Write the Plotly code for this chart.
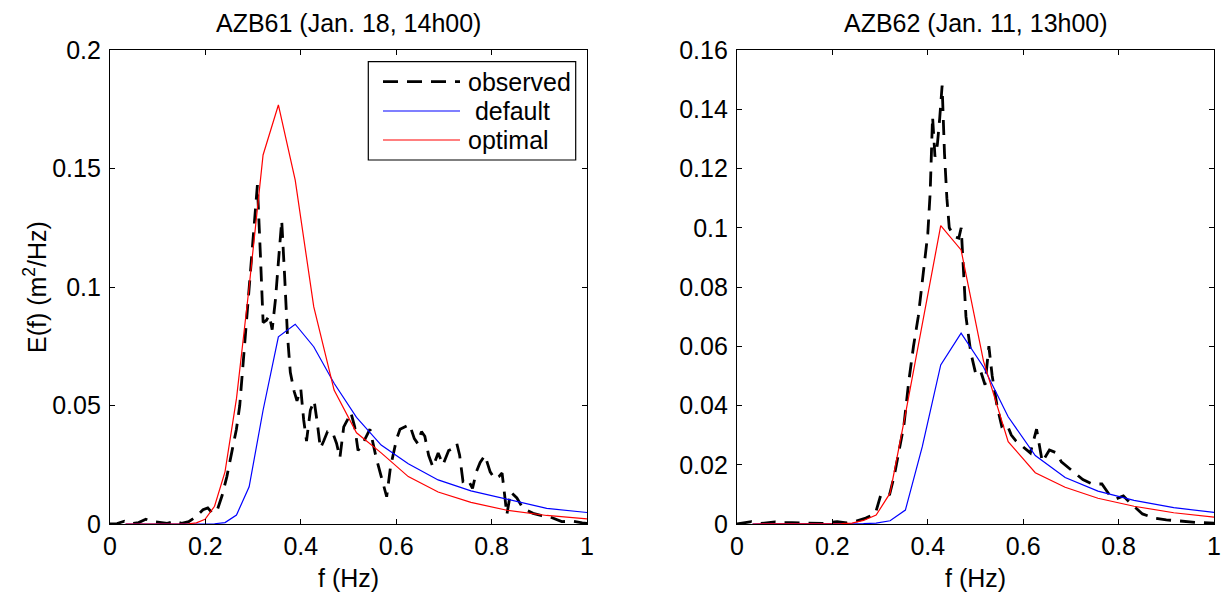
import plotly.graph_objects as go

# ---------------- data ----------------
# model frequency grid (logarithmic, read from vertices)
f_model = [0.0326, 0.0358, 0.0394, 0.0434, 0.0477, 0.0525, 0.0577, 0.0635, 0.0698,
           0.0768, 0.0845, 0.0929, 0.1022, 0.1125, 0.1237, 0.1361, 0.1497, 0.1647,
           0.1811, 0.1993, 0.2192, 0.2411, 0.2652, 0.2917, 0.3209, 0.3530, 0.3883,
           0.4271, 0.4698, 0.5168, 0.5685, 0.6253, 0.6879, 0.7567, 0.8323, 0.9156,
           1.0071]

# AZB61
left_default = [0, 0, 0, 0, 0, 0, 0, 0, 0,
                0, 0, 0, 0, 0, 0, 0, 0, 0,
                0, 0, 0.0001, 0.0006, 0.0038, 0.0157, 0.0480, 0.0790, 0.0843,
                0.0748, 0.0594, 0.0450, 0.0333, 0.0254, 0.0186, 0.0140, 0.0104, 0.0066,
                0.0047]
left_optimal = [0, 0, 0, 0, 0, 0, 0, 0, 0,
                0, 0, 0, 0, 0, 0, 0, 0, 0.0001,
                0.0005, 0.0020, 0.0075, 0.0220, 0.0530, 0.1000, 0.1557, 0.1768, 0.1451,
                0.0917, 0.0565, 0.0385, 0.0300, 0.0200, 0.0135, 0.0091, 0.0058, 0.0036,
                0.0020]
left_obs_f = [0.000, 0.015, 0.030, 0.045, 0.060, 0.075, 0.090, 0.105, 0.120, 0.135,
              0.150, 0.165, 0.180, 0.195, 0.205, 0.215, 0.225, 0.235, 0.245, 0.255,
              0.265, 0.272, 0.278, 0.284, 0.290, 0.297, 0.303, 0.309, 0.315, 0.321,
              0.328, 0.334, 0.340, 0.347, 0.354, 0.360, 0.366, 0.372, 0.378, 0.386,
              0.392, 0.400, 0.406, 0.412, 0.420, 0.428, 0.435, 0.441, 0.448, 0.456,
              0.466, 0.475, 0.482, 0.490, 0.498, 0.505, 0.513, 0.520, 0.530, 0.545,
              0.558, 0.568, 0.580, 0.588, 0.594, 0.601, 0.608, 0.620, 0.628, 0.638,
              0.645, 0.653, 0.660, 0.668, 0.677, 0.688, 0.698, 0.710, 0.720, 0.727,
              0.733, 0.740, 0.750, 0.760, 0.768, 0.776, 0.786, 0.797, 0.807, 0.815,
              0.822, 0.828, 0.832, 0.840, 0.853, 0.866, 0.887, 0.905, 0.922, 0.947,
              0.970, 0.990, 1.000]
left_obs_E = [0.0000, 0.0002, 0.0012, 0.0002, 0.0006, 0.0020, 0.0010, 0.0005, 0.0003, 0.0012,
              0.0003, 0.0010, 0.0030, 0.0060, 0.0068, 0.0045, 0.0060, 0.0120, 0.0200, 0.0300,
              0.0400, 0.0500, 0.0650, 0.0800, 0.0950, 0.1150, 0.1300, 0.1430, 0.1150, 0.0850,
              0.0860, 0.0880, 0.0820, 0.0950, 0.1130, 0.1280, 0.1050, 0.0800, 0.0640, 0.0560,
              0.0520, 0.0570, 0.0440, 0.0350, 0.0480, 0.0520, 0.0420, 0.0320, 0.0350, 0.0390,
              0.0390, 0.0340, 0.0280, 0.0410, 0.0440, 0.0470, 0.0410, 0.0310, 0.0340, 0.0400,
              0.0280, 0.0210, 0.0115, 0.0240, 0.0300, 0.0360, 0.0400, 0.0410, 0.0420, 0.0360,
              0.0340, 0.0390, 0.0370, 0.0290, 0.0240, 0.0300, 0.0250, 0.0310, 0.0320, 0.0340,
              0.0290, 0.0180, 0.0190, 0.0150, 0.0220, 0.0260, 0.0290, 0.0220, 0.0190, 0.0200,
              0.0215, 0.0110, 0.0040, 0.0135, 0.0110, 0.0065, 0.0045, 0.0035, 0.0030, 0.0010,
              0.0012, 0.0005, 0.0003]

# AZB62
right_default = [0, 0, 0, 0, 0, 0, 0, 0, 0,
                 0, 0, 0, 0, 0, 0, 0, 0, 0,
                 0, 0, 0, 0, 0.0001, 0.0003, 0.0011, 0.0047, 0.0260,
                 0.0537, 0.0644, 0.0530, 0.0362, 0.0231, 0.0157, 0.0111, 0.0080, 0.0055,
                 0.0038]
right_optimal = [0, 0, 0, 0, 0, 0, 0, 0, 0,
                 0, 0, 0, 0, 0, 0, 0, 0, 0,
                 0, 0, 0.0001, 0.0003, 0.0012, 0.0030, 0.0104, 0.0370, 0.0680,
                 0.1007, 0.0925, 0.0550, 0.0278, 0.0173, 0.0124, 0.0087, 0.0060, 0.0038,
                 0.0022]
right_obs_f = [0.000, 0.020, 0.030, 0.050, 0.080, 0.100, 0.130, 0.150, 0.180, 0.210,
               0.230, 0.250, 0.270, 0.290, 0.300, 0.310, 0.320, 0.330, 0.340, 0.350,
               0.360, 0.370, 0.380, 0.390, 0.400, 0.405, 0.410, 0.415, 0.420, 0.425,
               0.430, 0.435, 0.440, 0.445, 0.455, 0.465, 0.470, 0.475, 0.480, 0.490,
               0.500, 0.510, 0.520, 0.528, 0.535, 0.545, 0.555, 0.565, 0.575, 0.585,
               0.600, 0.615, 0.628, 0.640, 0.655, 0.670, 0.680, 0.695, 0.710, 0.725,
               0.745, 0.765, 0.780, 0.795, 0.810, 0.825, 0.850, 0.875, 0.900, 0.930,
               0.966, 1.000]
right_obs_E = [0.0000, 0.0005, 0.0008, 0.0002, 0.0007, 0.0005, 0.0003, 0.0004, 0.0002, 0.0008,
               0.0004, 0.0010, 0.0020, 0.0035, 0.0090, 0.0085, 0.0100, 0.0165, 0.0250, 0.0334,
               0.0480, 0.0600, 0.0700, 0.0830, 0.0980, 0.1120, 0.1375, 0.1240, 0.1280, 0.1370,
               0.1480, 0.1250, 0.1100, 0.1000, 0.0970, 0.0965, 0.1000, 0.0850, 0.0700, 0.0580,
               0.0510, 0.0520, 0.0470, 0.0600, 0.0500, 0.0400, 0.0330, 0.0340, 0.0300, 0.0280,
               0.0260, 0.0240, 0.0320, 0.0210, 0.0250, 0.0240, 0.0210, 0.0190, 0.0170, 0.0150,
               0.0135, 0.0135, 0.0100, 0.0085, 0.0095, 0.0070, 0.0034, 0.0020, 0.0014, 0.0010,
               0.0005, 0.0003]

titles = ["AZB61 (Jan. 18, 14h00)", "AZB62 (Jan. 11, 13h00)"]
series_names = ["observed", " default", "optimal"]
x_label = "f (Hz)"
y_label = "E(f) (m<sup>2</sup>/Hz)"
x_ticks = [0, 0.2, 0.4, 0.6, 0.8, 1]
x_ticktext = ["0", "0.2", "0.4", "0.6", "0.8", "1"]
left_yticks = [0, 0.05, 0.1, 0.15, 0.2]
left_yticktext = ["0", "0.05", "0.1", "0.15", "0.2"]
right_yticks = [0, 0.02, 0.04, 0.06, 0.08, 0.1, 0.12, 0.14, 0.16]
right_yticktext = ["0", "0.02", "0.04", "0.06", "0.08", "0.1", "0.12", "0.14", "0.16"]

# ---------------- figure ----------------
W, H = 1226, 594
FONT = "Liberation Sans, Arial, sans-serif"
FS = 25
OBS_COLOR, DEF_COLOR, OPT_COLOR = "black", "#0000ff", "#ff0000"
OBS_DASH = "15px,9px"

fig = go.Figure()
for i, (of, oE, dflt, opt) in enumerate([
        (left_obs_f, left_obs_E, left_default, left_optimal),
        (right_obs_f, right_obs_E, right_default, right_optimal)]):
    xa = "x" if i == 0 else "x2"
    ya = "y" if i == 0 else "y2"
    fig.add_trace(go.Scatter(x=of, y=oE, mode="lines", name=series_names[0].strip(),
                             line=dict(color=OBS_COLOR, width=2.8, dash=OBS_DASH),
                             xaxis=xa, yaxis=ya, showlegend=False))
    fig.add_trace(go.Scatter(x=f_model, y=dflt, mode="lines", name=series_names[1].strip(),
                             line=dict(color=DEF_COLOR, width=1.2), xaxis=xa, yaxis=ya,
                             showlegend=False))
    fig.add_trace(go.Scatter(x=f_model, y=opt, mode="lines", name=series_names[2].strip(),
                             line=dict(color=OPT_COLOR, width=1.2), xaxis=xa, yaxis=ya,
                             showlegend=False))

ax_common = dict(showline=True, linecolor="black", linewidth=1.2, mirror="ticks",
                 ticks="inside", ticklen=5, tickcolor="black", showgrid=False,
                 zeroline=False, automargin=False,
                 tickfont=dict(family=FONT, size=FS, color="black"))

def px_x(p):
    return p / W

def px_y(p):
    return 1 - p / H

fig.update_layout(
    width=W, height=H,
    margin=dict(l=0, r=0, t=0, b=0),
    paper_bgcolor="white", plot_bgcolor="white",
    font=dict(family=FONT, size=FS, color="black"),
    showlegend=False,
    xaxis=dict(domain=[px_x(110), px_x(587)], range=[0, 1], tickvals=x_ticks,
               ticktext=x_ticktext, anchor="y", **ax_common),
    yaxis=dict(domain=[px_y(524), px_y(50)], range=[0, 0.2], tickvals=left_yticks,
               ticktext=left_yticktext, anchor="x", ticklabelstandoff=3, **ax_common),
    xaxis2=dict(domain=[px_x(737), px_x(1214)], range=[0, 1], tickvals=x_ticks,
                ticktext=x_ticktext, anchor="y2", **ax_common),
    yaxis2=dict(domain=[px_y(524), px_y(50)], range=[0, 0.16], tickvals=right_yticks,
                ticktext=right_yticktext, anchor="x2", ticklabelstandoff=3, **ax_common),
)

txt = dict(family=FONT, size=FS, color="black")
ann = []
for cx, t in [((110 + 587) / 2, titles[0]), ((737 + 1214) / 2, titles[1])]:
    ann.append(dict(text=t, x=px_x(cx), y=px_y(23), xref="paper", yref="paper",
                    showarrow=False, xanchor="center", yanchor="middle", font=txt))
    ann.append(dict(text=x_label, x=px_x(cx), y=px_y(578), xref="paper", yref="paper",
                    showarrow=False, xanchor="center", yanchor="middle", font=txt))
ann.append(dict(text=y_label, x=px_x(35), y=px_y(287), xref="paper", yref="paper",
                showarrow=False, xanchor="center", yanchor="middle", textangle=-90,
                font=txt))

# legend box (drawn manually to match the reference layout)
shapes = [dict(type="rect", xref="paper", yref="paper",
               x0=px_x(368.3), x1=px_x(575.7), y0=px_y(160), y1=px_y(61.7),
               line=dict(color="black", width=1.2), fillcolor="white", layer="above")]
rows = [(81.7, OBS_COLOR, 2.8, OBS_DASH), (111, DEF_COLOR, 1.2, "solid"),
        (140, OPT_COLOR, 1.2, "solid")]
for (yy, col, lw, dsh), name in zip(rows, series_names):
    shapes.append(dict(type="line", xref="paper", yref="paper",
                       x0=px_x(383), x1=px_x(460), y0=px_y(yy), y1=px_y(yy),
                       line=dict(color=col, width=lw, dash=dsh), layer="above"))
    ann.append(dict(text=name.replace(" ", "&nbsp;"), x=px_x(466), y=px_y(yy),
                    xref="paper", yref="paper", showarrow=False, xanchor="left",
                    yanchor="middle", font=txt))

fig.update_layout(annotations=ann, shapes=shapes)
fig.write_html("out.html",
               config={"displayModeBar": False},
               post_script="document.body.style.margin='0';"
                           "document.body.style.overflow='hidden';")
